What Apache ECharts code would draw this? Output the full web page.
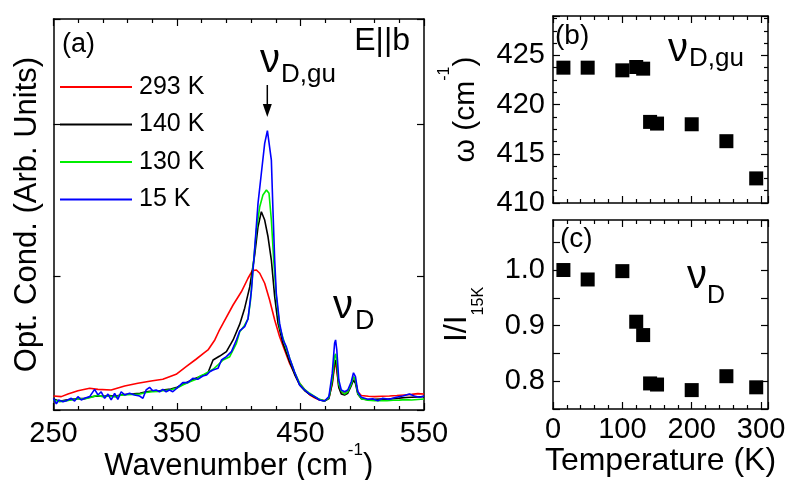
<!DOCTYPE html>
<html>
<head>
<meta charset="utf-8">
<script src="https://cdn.jsdelivr.net/npm/echarts@6/dist/echarts.min.js"></script>
<style>html,body{margin:0;padding:0;background:#fff}#c{width:788px;height:480px}</style>
</head>
<body>
<div id="c"></div>
<script>
// ---- data ----
const seriesNames = ['293 K', '140 K', '130 K', '15 K'];
const seriesColors = ['#ff0000', '#000000', '#00ee00', '#0000ff'];

// [wavenumber (cm-1), optical conductivity (arb. units)]
const spec293 = [[250,21.2],[256.3,20.8],[261.7,22.5],[269.8,24.7],[279.3,26.3],[286,25.6],[296.7,25.2],[307.6,27.8],[318.3,29.6],[329,31.1],[338.5,32.2],[349.3,35.5],[357.4,40.5],[365.4,45.4],[372.2,49.7],[375.1,51.5],[380.6,58.1],[384,64],[387.3,69],[395.4,81.1],[402.1,89.8],[407.5,98.7],[411,103.7],[414.3,104.1],[417,102],[421,95.4],[425,84.4],[429.1,71.2],[433.1,60.2],[437.1,51.5],[441.2,42.7],[445.2,36.1],[449.3,29.6],[453.3,25.5],[457.4,22],[461.4,20],[465.4,18.6],[469.5,18.2],[473,20],[475.7,29],[477.6,41],[478.4,42.7],[479.4,38],[481,27],[483,23.5],[485.7,23],[488.3,24.5],[491.1,29],[492.9,33.9],[494.5,31],[496.4,24],[499.2,21.5],[505,21],[510,20.8],[516,21],[522,21.2],[528,21.5],[534,21.9],[540,22.3],[545,22.8],[550,22.5]];

const spec140 = [[250,19.2],[255,17.8],[260,18.5],[265,19],[270,19.6],[275,19.5],[280,20.5],[285,21.3],[290,21],[295,21.5],[300,21],[305,22],[310,22.4],[315,22.6],[320,23],[325,24],[330,24.5],[335,24.5],[340,25.3],[345,25.8],[350,27],[355,29],[360.4,31.1],[364,32.5],[368.4,33.9],[372,35],[375.1,36.5],[377,40.5],[379.2,44.9],[384.6,47.5],[390,50.4],[395.4,58.1],[400.8,68.5],[404.8,79],[408.9,93],[412.9,114],[415.6,132.6],[418.3,142.5],[421,137],[423.7,126],[426.4,110.7],[429.1,86.6],[431.8,69],[435.8,55.9],[441.2,43.8],[445.2,35.5],[449.3,28.5],[453.3,24.8],[457.4,22.3],[461.4,20.5],[465.4,18.8],[469.5,17.8],[473,19.5],[475.7,30],[477.6,43],[478.4,44.9],[479.4,40],[481,27],[483,22.5],[485.7,21.9],[488.3,23],[491.1,28],[492.9,31.7],[494.5,29.5],[496.4,22.5],[499.2,19.5],[504.5,18.8],[510,19],[515,19.2],[520,19.1],[525,19.5],[530,19.8],[535,20.2],[540,20.4],[545,20.6],[550,20.8]];

const spec130 = [[250,18.6],[255,17.5],[260,18],[265,18.8],[270,19.5],[275,19.2],[280,20.2],[285,21.5],[290,20.8],[295,21.2],[300,20.6],[305,21.8],[310,22],[315,22.2],[320,22.5],[325,23.5],[330,24],[335,24.2],[340,24.8],[345,25.3],[350,26.5],[355,28.6],[360,30.4],[365,32],[368.4,34.2],[372,35.5],[375,36.8],[379.2,38.8],[383,41.5],[387.3,44.9],[392.7,47.1],[398.1,55.9],[400.8,63.5],[404.5,67.5],[407.5,72],[409.5,84],[411.5,105],[414.3,130.4],[417,145.8],[419.6,153.5],[422.4,156.8],[424.5,154.6],[426.4,137],[428.3,110.7],[430.4,86.6],[433.1,66.8],[437.1,55.9],[441.2,46],[445.2,37],[449.3,29.6],[453.3,25.5],[457.4,23],[461.4,21],[465.4,19],[469.5,18],[473,20],[475.7,32],[477.6,47],[478.4,49],[479.4,44],[481,29],[483,24.5],[485.7,22.5],[488.3,24],[491.1,29],[492.9,33.9],[494.5,31.5],[496.4,23],[499.2,19.5],[504.5,18.5],[510,18.2],[515,18.3],[520,18.1],[525,18.4],[530,18.5],[535,18.8],[540,18.6],[545,18.9],[550,19.2]];

const spec15 = [[250,19.7],[252.3,16],[254.2,18.6],[257.7,17.5],[260.3,18.1],[264.4,19.7],[267.1,17.9],[269.8,20.8],[272.5,18.6],[275.2,19.7],[279.3,20.8],[283.3,25.6],[286,21.9],[288.6,24],[291.4,19.7],[294.1,22.5],[296.7,18.6],[299.5,23],[302.1,19],[304.8,24],[307.6,21.9],[311.6,23],[315.6,21.9],[319.7,21.2],[322.4,19.7],[325,25.2],[327.8,26.9],[330.4,24.7],[333.1,25.2],[335.9,24],[338.5,25.6],[341.2,24],[343.9,25.2],[346.6,24],[350.6,26.9],[354.7,30],[358.7,30],[362.8,32.9],[366.8,32.2],[370.9,34.4],[374,35],[376.5,37.2],[379.2,38.3],[383.2,39.4],[386,44.9],[390,47.1],[394.1,50.4],[398.1,58.1],[400.8,64],[404.8,66.8],[407.5,72],[410.2,90],[412.9,118],[415.6,148],[418.3,167.8],[421,187.5],[423.2,195.8],[424.5,195],[426.4,176.5],[427.7,143.6],[429.1,110.7],[430.4,88.8],[433.1,69],[435.8,58.1],[438.5,53.7],[441.2,46],[445.2,37],[449.3,28.5],[453.3,25.2],[457.4,22.5],[461.4,20.8],[465.4,18.6],[469.5,17.9],[473,20.8],[475.7,36.1],[477.6,55.9],[478.4,58.1],[479.4,51.5],[481,31.7],[483,25.2],[485.7,24],[488.3,25.2],[491.1,30.6],[492.9,36.5],[494.5,33.9],[496.4,24],[499.2,20.4],[504.5,19],[508.5,19.4],[512.6,18.1],[516.6,19.7],[522,19],[527.4,20.4],[532.8,21.2],[538.2,22.5],[542.2,21.2],[546.3,20.4],[550,21.2]];

const temperatureK = [15, 50, 100, 120, 130, 140, 150, 200, 250, 293];
const omegaDgu = [423.75, 423.75, 423.48, 423.82, 423.65, 418.24, 418.07, 418.0, 416.28, 412.5];
const intensityD = [1.0, 0.983, 0.998, 0.907, 0.883, 0.796, 0.794, 0.784, 0.809, 0.789];

// ---- chart ----
const FONT = '"Liberation Sans", Arial, sans-serif';
const BLACK = '#000';
const chart = echarts.init(document.getElementById('c'), null, {renderer: 'canvas'});

function frameAxis(o) {
  return Object.assign({
    type: 'value',
    nameMoveOverlap: false,
    axisLine: {show: true, onZero: false, lineStyle: {color: BLACK, width: 1.5}},
    axisTick: {show: true, inside: true, length: 7, lineStyle: {color: BLACK, width: 1.2}},
    minorTick: {show: false},
    splitLine: {show: false},
    minorSplitLine: {show: false},
    axisLabel: {show: false}
  }, o);
}
const minor = n => ({show: true, splitNumber: n, length: 4, lineStyle: {color: BLACK, width: 1.2}});
const tickLabel = m => ({show: true, fontSize: 29, fontFamily: FONT, color: BLACK, margin: m,
  showMinLabel: true, showMaxLabel: false});

const specList = [spec293, spec140, spec130, spec15];
const lineSeries = specList.map((d, i) => ({
  name: seriesNames[i], type: 'line', xAxisIndex: 0, yAxisIndex: 0,
  data: d, showSymbol: false, symbol: 'none', smooth: false,
  lineStyle: {color: seriesColors[i], width: 1.6}, itemStyle: {color: seriesColors[i]},
  z: 2 + i
}));

function txt(x, y, text, size, align) {
  return {type: 'text', x: x, y: y, z: 100,
    style: {text: text, fill: BLACK, font: size + 'px ' + FONT,
      textAlign: align || 'left', textVerticalAlign: 'middle', align: align || 'left', verticalAlign: 'middle'}};
}

const option = {
  animation: false,
  backgroundColor: '#fff',
  grid: [
    {left: 53.5, top: 19, width: 370.5, height: 391, outerBoundsMode: 'none', containLabel: false},
    {left: 553, top: 16, width: 215, height: 187, outerBoundsMode: 'none', containLabel: false},
    {left: 553, top: 220, width: 215, height: 189, outerBoundsMode: 'none', containLabel: false}
  ],
  legend: {
    data: seriesNames, orient: 'vertical', left: 60, top: 74.5, padding: 0,
    icon: 'rect', itemWidth: 72, itemHeight: 2, itemGap: 12.5,
    textStyle: {fontSize: 25, fontFamily: FONT, color: BLACK, padding: [0, 0, 0, 2]},
    selectedMode: false
  },
  xAxis: [
    frameAxis({gridIndex: 0, position: 'bottom', min: 250, max: 550, interval: 100, minorTick: minor(5),
      axisLabel: Object.assign(tickLabel(9), {showMaxLabel: true}),
      name: '{m|Wavenumber (cm}{s|-1}{m|)}', nameLocation: 'middle', nameGap: 32,
      nameTextStyle: {rich: {
        m: {fontSize: 31, fontFamily: FONT, color: BLACK, lineHeight: 40, verticalAlign: 'bottom'},
        s: {fontSize: 17, fontFamily: FONT, color: BLACK, lineHeight: 17, verticalAlign: 'top'}}}}),
    frameAxis({gridIndex: 0, position: 'top', min: 250, max: 550, interval: 100, minorTick: minor(5)}),
    frameAxis({gridIndex: 1, position: 'bottom', min: 0, max: 310, interval: 100, minorTick: minor(5)}),
    frameAxis({gridIndex: 1, position: 'top', min: 0, max: 310, interval: 100, minorTick: minor(5)}),
    frameAxis({gridIndex: 2, position: 'bottom', min: 0, max: 310, interval: 100, minorTick: minor(5),
      axisLabel: tickLabel(6),
      name: 'Temperature (K)', nameLocation: 'middle', nameGap: 36,
      nameTextStyle: {fontSize: 32, fontFamily: FONT, color: BLACK}}),
    frameAxis({gridIndex: 2, position: 'top', min: 0, max: 310, interval: 100, minorTick: minor(5)})
  ],
  yAxis: [
    frameAxis({gridIndex: 0, position: 'left', min: 12, max: 269.3, splitNumber: 2,
      name: 'Opt. Cond. (Arb. Units)', nameLocation: 'middle', nameGap: 11,
      nameTextStyle: {fontSize: 31, fontFamily: FONT, color: BLACK}}),
    frameAxis({gridIndex: 0, position: 'right', min: 12, max: 269.3, splitNumber: 2}),
    frameAxis({gridIndex: 1, position: 'left', min: 410, max: 429, interval: 5, minorTick: minor(4),
      axisLabel: tickLabel(8),
      name: '{m|ω (cm}{s|-1}{m|)}', nameLocation: 'middle', nameGap: 72,
      nameTextStyle: {rich: {
        m: {fontSize: 30, fontFamily: FONT, color: BLACK, lineHeight: 44, verticalAlign: 'bottom'},
        s: {fontSize: 16, fontFamily: FONT, color: BLACK, lineHeight: 16, verticalAlign: 'top'}}}}),
    frameAxis({gridIndex: 1, position: 'right', min: 410, max: 429, interval: 5, minorTick: minor(4)}),
    frameAxis({gridIndex: 2, position: 'left', min: 0.75, max: 1.09, interval: 0.05,
      axisLabel: Object.assign(tickLabel(8), {formatter: v => {
        const t = Math.round(v * 100);
        return (t % 10 === 0) ? (t / 100).toFixed(1) : '';
      }}),
      name: '{m|I/I}{s|15K}', nameLocation: 'middle', nameGap: 66,
      nameTextStyle: {rich: {
        m: {fontSize: 32, fontFamily: FONT, color: BLACK, lineHeight: 46, verticalAlign: 'top'},
        s: {fontSize: 16, fontFamily: FONT, color: BLACK, lineHeight: 16, verticalAlign: 'bottom'}}}}),
    frameAxis({gridIndex: 2, position: 'right', min: 0.75, max: 1.09, interval: 0.05})
  ],
  series: lineSeries.concat([
    {type: 'scatter', xAxisIndex: 2, yAxisIndex: 2, symbol: 'rect', symbolSize: 14,
      itemStyle: {color: BLACK, opacity: 1}, data: temperatureK.map((t, i) => [t, omegaDgu[i]]), z: 5},
    {type: 'scatter', xAxisIndex: 4, yAxisIndex: 4, symbol: 'rect', symbolSize: 14,
      itemStyle: {color: BLACK, opacity: 1}, data: temperatureK.map((t, i) => [t, intensityD[i]]), z: 5}
  ]),
  graphic: {elements: [
    txt(62, 45, '(a)', 27),
    txt(410, 41, 'E||b', 32, 'right'),
    txt(270, 61, 'ν', 40, 'center'),
    txt(281, 75, 'D,gu', 26),
    {type: 'line', z: 100, shape: {x1: 267.3, y1: 85, x2: 267.3, y2: 106}, style: {stroke: BLACK, lineWidth: 1.5}},
    {type: 'polygon', z: 100, shape: {points: [[262.8, 104], [271.8, 104], [267.3, 117]]}, style: {fill: BLACK}},
    txt(343, 307, 'ν', 40, 'center'),
    txt(355, 322, 'D', 27),
    txt(555, 36, '(b)', 28),
    txt(678, 50, 'ν', 40, 'center'),
    txt(689, 59, 'D,gu', 26),
    txt(560, 239, '(c)', 28),
    txt(697, 277, 'ν', 40, 'center'),
    txt(707, 296, 'D', 25)
  ]}
};
chart.setOption(option);
</script>
</body>
</html>
